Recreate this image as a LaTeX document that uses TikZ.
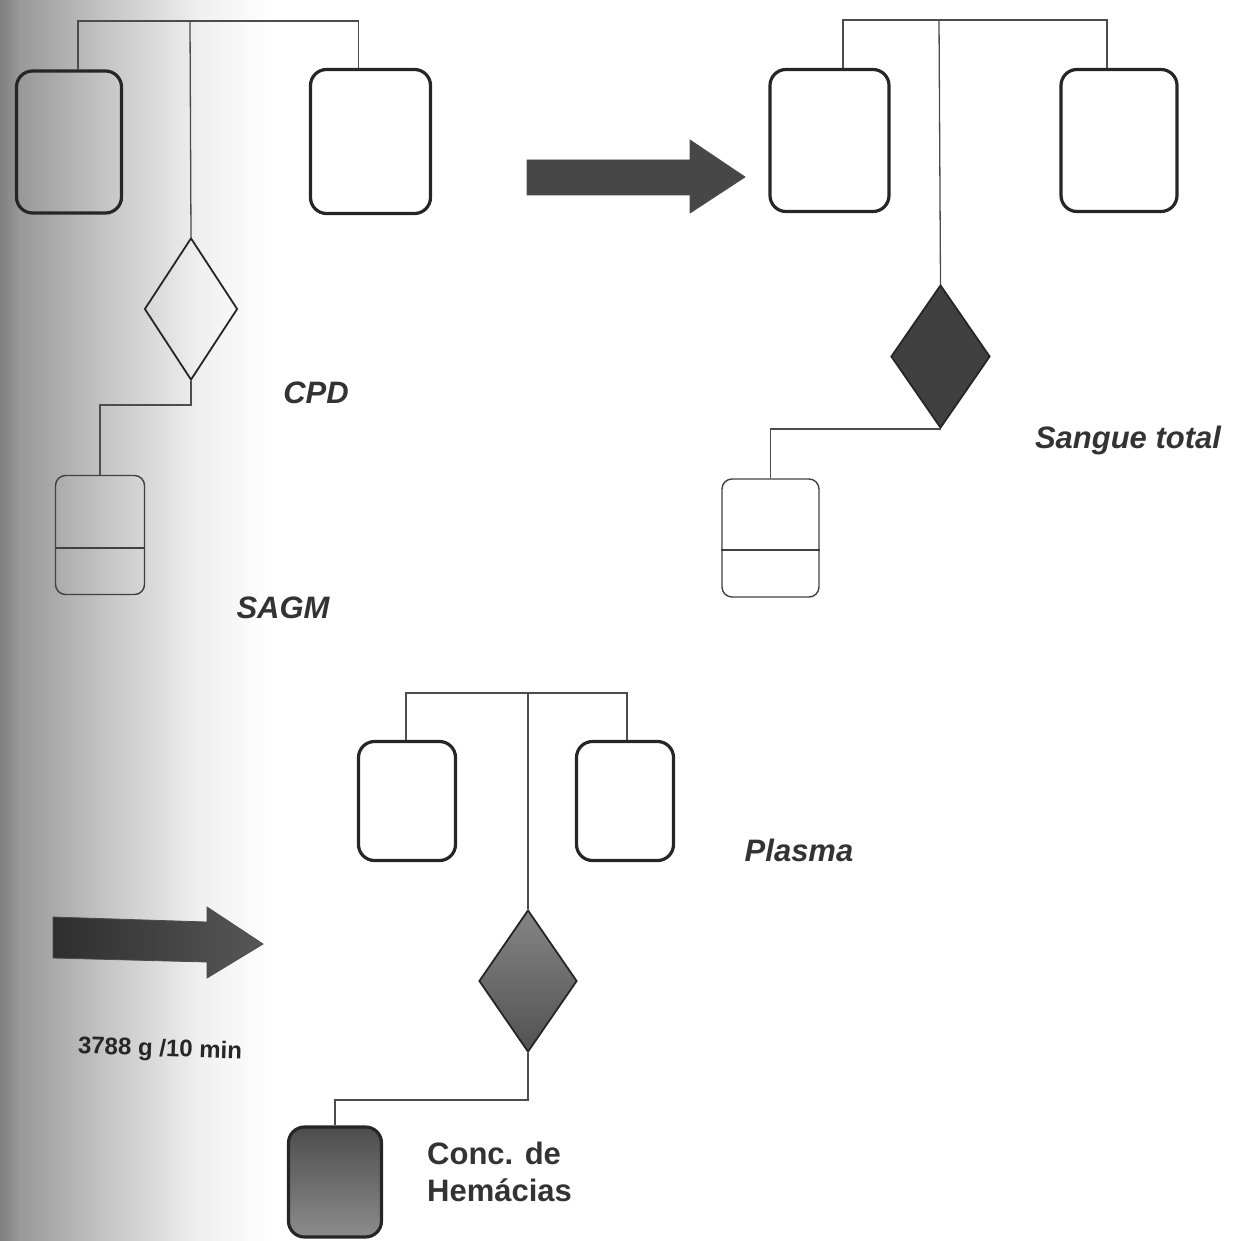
\documentclass[tikz,border=0pt]{standalone}
\usepackage{fontspec}
\setmainfont{Liberation Sans}
\usetikzlibrary{shapes.geometric,calc}
\begin{document}
\begin{tikzpicture}[x=1pt,y=-1pt,
  bag/.style={draw=black!85, line width=3.2pt, rounded corners=16pt, inner sep=0pt},
  smallbag/.style={draw=black!75, line width=1.4pt, rounded corners=10pt, inner sep=0pt},
  divider/.style={draw=black!75, line width=1.4pt},
  valve/.style={diamond, draw=black!85, line width=1.8pt, inner sep=0pt},
  tube/.style={draw=black!70, line width=1.3pt},
  lab/.style={font=\fontsize{31}{36}\selectfont\bfseries\itshape, text=black!80, inner sep=0pt},
  labup/.style={font=\fontsize{31}{37}\selectfont\bfseries, text=black!80, inner sep=0pt, align=left},
  small/.style={font=\fontsize{24}{28}\selectfont\bfseries, text=black!85, inner sep=0pt},
  blockarrow/.style={draw=black!70, line width=0.8pt}
]
\useasboundingbox (0,0) rectangle (1239,1241);
% scanned page shadow on the left
\shade[left color=black!50, right color=black!40, draw=none] (0,0) rectangle (20,1241);
\shade[left color=black!40, right color=black!22, draw=none] (20,0) rectangle (110,1241);
\shade[left color=black!22, right color=black!6, draw=none] (110,0) rectangle (200,1241);
\shade[left color=black!6, right color=white, draw=none] (200,0) rectangle (270,1241);

% ---------- top-left set ----------
\node[bag, minimum width=105, minimum height=142] (A1) at (69,142) {};
\node[bag, minimum width=120, minimum height=144] (A2) at (370.5,141.5) {};
\coordinate (At) at (190,21);
\node[valve, minimum width=93, minimum height=142] (Av) at (191,309) {};
\coordinate (Ab) at (191,405);
\node[smallbag, minimum width=89, minimum height=119] (As) at (100,535) {};
\draw[divider] (As.west |- 0,548) -- (As.east |- 0,548);
\draw[tube] ($(A1.north)+(9,0)$) |- (At) -| ($(A2.north)+(-12,0)$);
\draw[tube] (At) -- (Av.north);
\draw[tube] (Av.south) -- (Ab) -| (As.north);
\node[lab] (cpd) at (316,393) {CPD};
\node[lab] (sagm) at (283,608) {SAGM};

% ---------- arrow 1 ----------
\fill[black!72, blockarrow] (527,160) -- (690,160) -- (690,140) -- (745,177) -- (690,213) -- (690,195) -- (527,195) -- cycle;

% ---------- top-right set ----------
\node[bag, minimum width=119, minimum height=142] (B1) at (829.5,140.5) {};
\node[bag, minimum width=116, minimum height=142] (B2) at (1119,140.5) {};
\coordinate (Bt) at (939,20);
\node[valve, fill=black!75, minimum width=99, minimum height=143] (Bv) at (940.5,356.5) {};
\node[smallbag, minimum width=97, minimum height=118] (Bs) at (770.5,538) {};
\draw[divider] (Bs.west |- 0,550) -- (Bs.east |- 0,550);
\draw[tube] ($(B1.north)+(13.5,0)$) |- (Bt) -| ($(B2.north)+(-12,0)$);
\draw[tube] (Bt) -- (Bv.north);
\draw[tube] (Bv.south) -| (Bs.north);
\node[lab] (st) at (1128,440) {Sangue total};

% ---------- bottom set ----------
\node[bag, minimum width=97, minimum height=119] (C1) at (407,801) {};
\node[bag, minimum width=97, minimum height=119] (C2) at (625,801) {};
\coordinate (Ct) at (528,693);
\node[valve, top color=black!48, bottom color=black!68, minimum width=98, minimum height=142] (Cv) at (528,981) {};
\coordinate (Cb) at (528,1100);
\node[bag, top color=black!70, bottom color=black!45, minimum width=93, minimum height=110] (Cs) at (335,1182) {};
\draw[tube] ($(C1.north)+(-1,0)$) |- (Ct) -| ($(C2.north)+(2,0)$);
\draw[tube] (Ct) -- (Cv.north);
\draw[tube] (Cv.south) -- (Cb) -| (Cs.north);
\node[lab] (pl) at (799,850) {Plasma};
\node[labup, anchor=west] (ch) at (427,1172) {Conc. de\\Hem\'acias};

% ---------- arrow 2 ----------
\shade[left color=black!82, right color=black!66, blockarrow] (53,917) -- (207,922) -- (207,907) -- (263,944) -- (207,978) -- (207,962) -- (53,958) -- cycle;
\node[small, rotate=-2] (rpm) at (160,1050) {3788 g /10 min};
\end{tikzpicture}
\end{document}
